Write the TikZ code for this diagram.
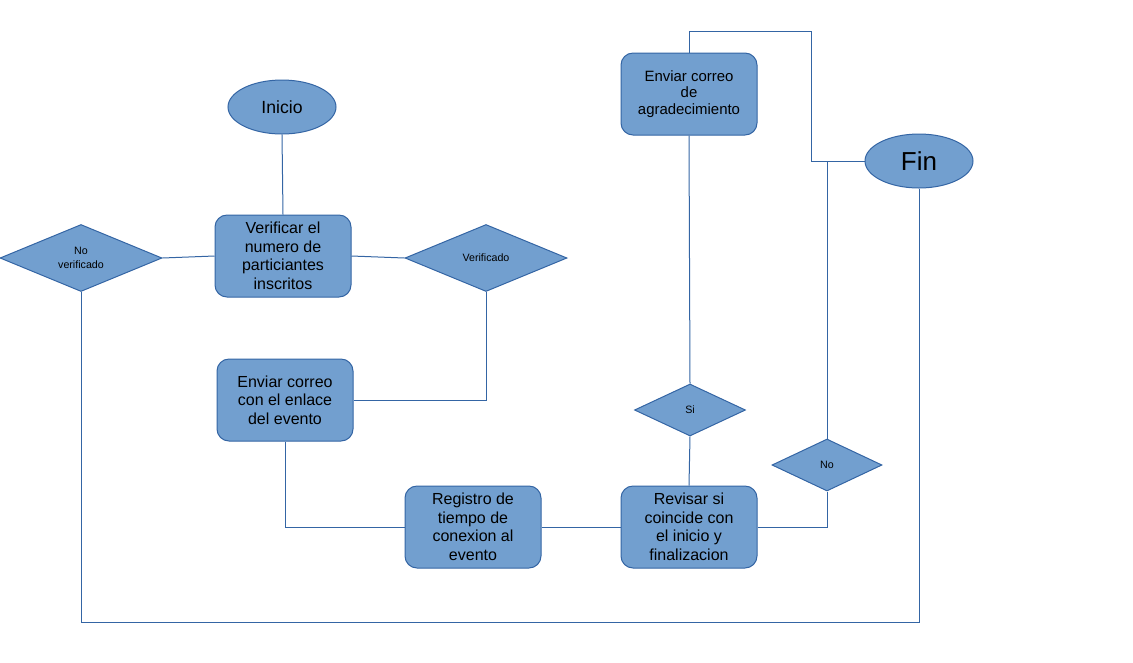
\documentclass[tikz,border=0pt]{standalone}
\usepackage{fontspec}
\setmainfont{Liberation Sans}
\usetikzlibrary{shapes.geometric}
\definecolor{fillb}{HTML}{729FCF}
\definecolor{lineb}{HTML}{3465A4}
\tikzset{
  box/.style={draw=lineb, fill=fillb, line width=0.75pt, rounded corners=9pt, minimum width=102pt, minimum height=61.5pt, inner sep=0pt, align=center, font=\fontsize{12}{13.9}\selectfont},
  oval/.style={draw=lineb, fill=fillb, line width=0.75pt, ellipse, minimum width=81pt, minimum height=40.5pt, inner sep=0pt},
  dia/.style={draw=lineb, fill=fillb, line width=0.75pt, diamond, aspect=2.4, inner sep=0pt, align=center, font=\fontsize{8}{10}\selectfont},
  conn/.style={draw=lineb, line width=0.75pt}
}
\begin{document}
\begin{tikzpicture}[x=0.75pt,y=-0.75pt]
\useasboundingbox (0,0) rectangle (1133,662);
\node[oval, font=\fontsize{13.2}{15}\selectfont] (inicio) at (282,107) {Inicio};
\node[box] (verif) at (283,256) {Verificar el\\numero de\\particiantes\\inscritos};
\node[dia, minimum width=121.5pt, minimum height=50.25pt] (nover) at (81,258) {No\\verificado};
\node[dia, minimum width=121.5pt, minimum height=50.25pt] (sive) at (486,258) {Verificado};
\node[box] (enlace) at (285,400) {Enviar correo\\con el enlace\\del evento};
\node[box] (registro) at (473,527) {Registro de\\tiempo de\\conexion al\\evento};
\node[box] (revisar) at (689,527) {Revisar si\\coincide con\\el inicio y\\finalizacion};
\node[dia, minimum width=83.25pt, minimum height=39pt] (si) at (690,410) {Si};
\node[dia, minimum width=82.5pt, minimum height=39pt] (no) at (827,465) {No};
\node[box, font=\fontsize{11.2}{12.6}\selectfont] (agr) at (689,94) {Enviar correo\\de\\agradecimiento};
\node[oval, font=\fontsize{19.5}{22}\selectfont] (fin) at (919,161) {Fin};
\coordinate (jt) at (811,31);
\coordinate (jb) at (811,161);
\coordinate (bl) at (81,622);
\coordinate (br) at (919,622);
\draw[conn] (inicio.south) -- (verif.north);
\draw[conn] (verif.west) -- (nover.east);
\draw[conn] (verif.east) -- (sive.west);
\draw[conn] (sive.south) |- (enlace.east);
\draw[conn] (enlace.south) |- (registro.west);
\draw[conn] (registro.east) -- (revisar.west);
\draw[conn] (revisar.north) -- (si.south);
\draw[conn] (si.north) -- (agr.south);
\draw[conn] (agr.north) |- (jt) -- (jb) -- (fin.west);
\draw[conn] (revisar.east) -| (no.south);
\draw[conn] (no.north) -- (no.north |- fin.west);
\draw[conn] (nover.south) -- (bl) -- (br) -- (fin.south);
\end{tikzpicture}
\end{document}
